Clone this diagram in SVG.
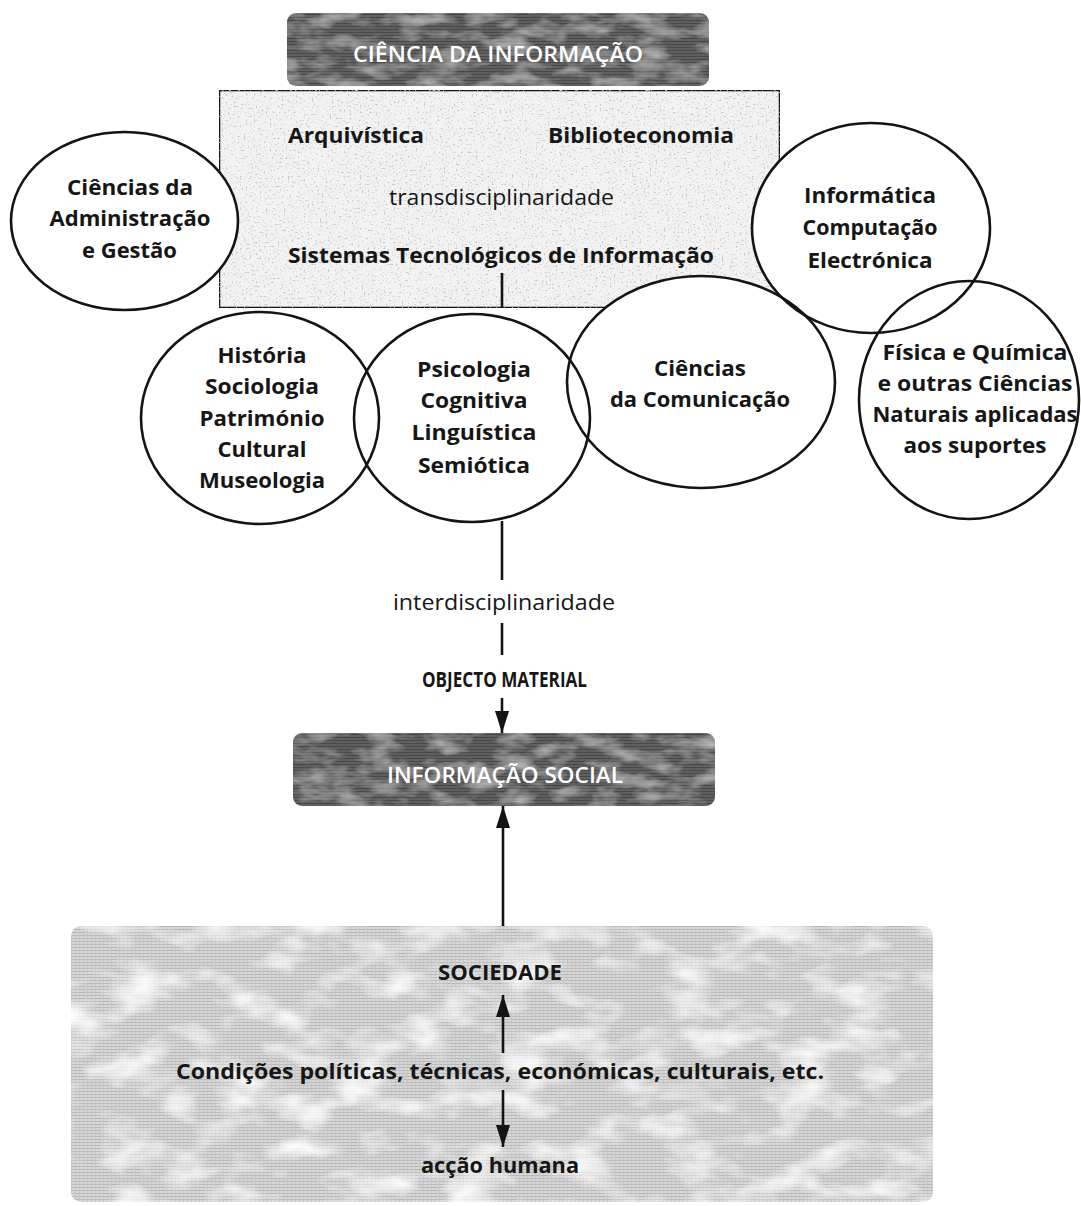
<svg xmlns="http://www.w3.org/2000/svg" width="1081" height="1206" viewBox="0 0 1081 1206">
<style>
  .t { font-family: "Open Sans", "Noto Sans", "Liberation Sans", sans-serif; font-weight: 700; font-size: 22px; fill: #161616; text-anchor: middle; }
  .r { font-weight: 400; font-size: 22px; }
  .w { fill: #ffffff; font-weight: 600; }
  .ring { fill: none; stroke: #141414; stroke-width: 2.6; }
  .cover { fill: #ffffff; stroke: none; }
  .conn { stroke: #141414; stroke-width: 2.6; fill: none; }
</style>
<defs>
  <marker id="ah" viewBox="0 0 22 14" refX="22" refY="7" markerWidth="22" markerHeight="14" markerUnits="userSpaceOnUse" orient="auto">
    <path d="M0,0 L22,7 L0,14 Z" fill="#141414"/>
  </marker>
  <pattern id="hatch" width="4" height="3" patternUnits="userSpaceOnUse">
    <rect width="4" height="3" fill="#d8d8d8"/>
    <rect y="2" width="4" height="1" fill="#b8b8b8"/>
    <rect x="3" width="1" height="3" fill="#c6c6c6"/>
  </pattern>
  <pattern id="hatchDark" width="4" height="3" patternUnits="userSpaceOnUse">
    <rect width="4" height="3" fill="#5e5e5e"/>
    <rect y="2" width="4" height="1" fill="#4a4a4a"/>
  </pattern>
  <filter id="mottle" x="0" y="0" width="100%" height="100%">
    <feTurbulence type="fractalNoise" baseFrequency="0.018 0.035" numOctaves="3" seed="7" result="n"/>
    <feColorMatrix in="n" type="matrix" values="0 0 0 0 1  0 0 0 0 1  0 0 0 0 1  2.4 0 0 0 -1.1" result="w"/>
    <feComposite in="w" in2="SourceGraphic" operator="in" result="wc"/>
    <feMerge><feMergeNode in="SourceGraphic"/><feMergeNode in="wc"/></feMerge>
  </filter>
  <filter id="mottleDark" x="0" y="0" width="100%" height="100%">
    <feTurbulence type="fractalNoise" baseFrequency="0.03 0.08" numOctaves="3" seed="3" result="n"/>
    <feColorMatrix in="n" type="matrix" values="0 0 0 0 0.7  0 0 0 0 0.7  0 0 0 0 0.7  1.2 0 0 0 -0.5" result="w"/>
    <feComposite in="w" in2="SourceGraphic" operator="in" result="wc"/>
    <feMerge><feMergeNode in="SourceGraphic"/><feMergeNode in="wc"/></feMerge>
  </filter>
  <filter id="speckle" x="0" y="0" width="100%" height="100%">
    <feTurbulence type="fractalNoise" baseFrequency="0.5" numOctaves="1" seed="11" result="n"/>
    <feColorMatrix in="n" type="matrix" values="0 0 0 0 0.55  0 0 0 0 0.55  0 0 0 0 0.55  6 0 0 0 -3.6" result="d"/>
    <feComposite in="d" in2="SourceGraphic" operator="in" result="dc"/>
    <feMerge><feMergeNode in="SourceGraphic"/><feMergeNode in="dc"/></feMerge>
  </filter>
</defs>

<rect width="1081" height="1206" fill="#ffffff"/>

<!-- Ciência da Informação header -->
<g id="ciencia-informacao">
  <rect x="287" y="13" width="422" height="73" rx="9" fill="url(#hatchDark)" filter="url(#mottleDark)"/>
  <text class="t w" x="498" y="62" font-size="23" textLength="290" lengthAdjust="spacingAndGlyphs">CIÊNCIA DA INFORMAÇÃO</text>
</g>

<!-- transdisciplinary box -->
<g id="transdisciplinaridade-box">
  <rect x="219" y="90" width="561" height="218" fill="#f2f2f2" stroke="#141414" stroke-width="2.6" filter="url(#speckle)"/>
</g>

<!-- white covers of the ellipses (hide box texture under them) -->
<g id="ellipse-covers">
  <ellipse class="cover" cx="124.5" cy="221" rx="113.5" ry="89"/>
  <ellipse class="cover" cx="871" cy="228" rx="119" ry="105"/>
  <ellipse class="cover" cx="260" cy="418" rx="119" ry="106"/>
  <ellipse class="cover" cx="472" cy="418" rx="118" ry="104"/>
  <ellipse class="cover" cx="701" cy="382" rx="134" ry="106"/>
  <ellipse class="cover" cx="969" cy="400" rx="110" ry="119"/>
</g>

<g id="box-contents">
  <text class="t" x="356" y="143" textLength="136" lengthAdjust="spacingAndGlyphs">Arquivística</text>
  <text class="t" x="641" y="143" textLength="186" lengthAdjust="spacingAndGlyphs">Biblioteconomia</text>
  <text class="t r" x="501.5" y="205" textLength="225" lengthAdjust="spacingAndGlyphs">transdisciplinaridade</text>
  <text class="t" x="501" y="263" textLength="426" lengthAdjust="spacingAndGlyphs">Sistemas Tecnológicos de Informação</text>
</g>

<g id="administracao">
  <ellipse class="ring" cx="124.5" cy="221" rx="113.5" ry="89"/>
  <text class="t" x="130" y="195" textLength="126" lengthAdjust="spacingAndGlyphs">Ciências da</text>
  <text class="t" x="130" y="226" textLength="161" lengthAdjust="spacingAndGlyphs">Administração</text>
  <text class="t" x="129.5" y="258" textLength="95" lengthAdjust="spacingAndGlyphs">e Gestão</text>
</g>

<g id="informatica">
  <ellipse class="ring" cx="871" cy="228" rx="119" ry="105"/>
  <text class="t" x="870" y="203" textLength="132" lengthAdjust="spacingAndGlyphs">Informática</text>
  <text class="t" x="870" y="235" textLength="135" lengthAdjust="spacingAndGlyphs">Computação</text>
  <text class="t" x="870" y="268" textLength="125" lengthAdjust="spacingAndGlyphs">Electrónica</text>
</g>

<g id="historia">
  <ellipse class="ring" cx="260" cy="418" rx="119" ry="106"/>
  <text class="t" x="262" y="363" textLength="89" lengthAdjust="spacingAndGlyphs">História</text>
  <text class="t" x="262" y="394" textLength="114" lengthAdjust="spacingAndGlyphs">Sociologia</text>
  <text class="t" x="262" y="426" textLength="125" lengthAdjust="spacingAndGlyphs">Património</text>
  <text class="t" x="262" y="457" textLength="89" lengthAdjust="spacingAndGlyphs">Cultural</text>
  <text class="t" x="262" y="488" textLength="126" lengthAdjust="spacingAndGlyphs">Museologia</text>
</g>

<g id="psicologia">
  <ellipse class="ring" cx="472" cy="418" rx="118" ry="104"/>
  <text class="t" x="474" y="377" textLength="114" lengthAdjust="spacingAndGlyphs">Psicologia</text>
  <text class="t" x="474" y="408" textLength="107" lengthAdjust="spacingAndGlyphs">Cognitiva</text>
  <text class="t" x="474" y="440" textLength="125" lengthAdjust="spacingAndGlyphs">Linguística</text>
  <text class="t" x="474" y="473" textLength="112" lengthAdjust="spacingAndGlyphs">Semiótica</text>
</g>

<g id="comunicacao">
  <ellipse class="ring" cx="701" cy="382" rx="134" ry="106"/>
  <text class="t" x="700" y="376" textLength="92" lengthAdjust="spacingAndGlyphs">Ciências</text>
  <text class="t" x="700" y="407" textLength="180" lengthAdjust="spacingAndGlyphs">da Comunicação</text>
</g>

<g id="fisica-quimica">
  <ellipse class="ring" cx="969" cy="400" rx="110" ry="119"/>
  <text class="t" x="975" y="360" textLength="185" lengthAdjust="spacingAndGlyphs">Física e Química</text>
  <text class="t" x="975" y="391" textLength="195" lengthAdjust="spacingAndGlyphs">e outras Ciências</text>
  <text class="t" x="975" y="422" textLength="205" lengthAdjust="spacingAndGlyphs">Naturais aplicadas</text>
  <text class="t" x="975" y="453" textLength="143" lengthAdjust="spacingAndGlyphs">aos suportes</text>
</g>

<g id="informacao-social">
  <rect x="293" y="733" width="422" height="73" rx="9" fill="url(#hatchDark)" filter="url(#mottleDark)"/>
  <text class="t w" x="505" y="783" font-size="25" textLength="236" lengthAdjust="spacingAndGlyphs">INFORMAÇÃO SOCIAL</text>
</g>

<g id="sociedade">
  <rect x="71" y="926" width="862" height="276" rx="10" fill="url(#hatch)" filter="url(#mottle)"/>
  <text class="t" x="500" y="980" textLength="124" lengthAdjust="spacingAndGlyphs">SOCIEDADE</text>
  <text class="t" x="500" y="1079" textLength="648" lengthAdjust="spacingAndGlyphs">Condições políticas, técnicas, económicas, culturais, etc.</text>
  <text class="t" x="500" y="1173" textLength="158" lengthAdjust="spacingAndGlyphs">acção humana</text>
</g>

<g id="connectors">
  <line class="conn" x1="502" y1="273" x2="502" y2="308"/>
  <line class="conn" x1="502" y1="521" x2="502" y2="580"/>
  <text class="t r" x="504" y="610" textLength="222" lengthAdjust="spacingAndGlyphs">interdisciplinaridade</text>
  <line class="conn" x1="502" y1="623" x2="502" y2="655"/>
  <text class="t" x="504.5" y="687" font-size="16" textLength="165" lengthAdjust="spacingAndGlyphs">OBJECTO MATERIAL</text>
  <line class="conn" x1="502" y1="698" x2="502" y2="733" marker-end="url(#ah)"/>
  <line class="conn" x1="503" y1="926" x2="503" y2="806" marker-end="url(#ah)"/>
  <line class="conn" x1="503" y1="1053" x2="503" y2="995" marker-end="url(#ah)"/>
  <line class="conn" x1="503" y1="1090" x2="503" y2="1147" marker-end="url(#ah)"/>
</g>
</svg>
